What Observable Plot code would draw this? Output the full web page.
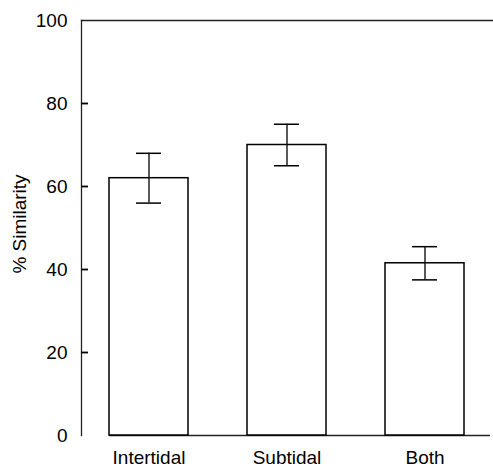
<!DOCTYPE html>
<html>
<head>
<meta charset="utf-8">
<script src="https://cdn.jsdelivr.net/npm/d3@7"></script>
<script src="https://cdn.jsdelivr.net/npm/@observablehq/plot@0.6"></script>
<style>
  html, body { margin: 0; padding: 0; background: #fff; }
</style>
</head>
<body>
<div id="chart"></div>
<script>
const categories = ["Intertidal", "Subtidal", "Both"];
const means = [62, 70, 41.5];
const lows = [56, 65, 37.5];
const highs = [68, 75, 45.5];
const yTicks = [0, 20, 40, 60, 80, 100];
const yInnerTicks = [20, 40, 60, 80];
const yLabel = "% Similarity";

const data = categories.map((c, i) => ({cat: c, mean: means[i], lo: lows[i], hi: highs[i]}));

const chart = Plot.plot({
  width: 493,
  height: 472,
  marginLeft: 81,
  marginRight: 0,
  marginTop: 20,
  marginBottom: 37,
  style: {fontFamily: "'Liberation Sans', Arial, sans-serif", fontSize: "19px", color: "#000", background: "#fff"},
  x: {domain: categories, paddingInner: 0.424, paddingOuter: 0.2},
  y: {domain: [0, 100]},
  marks: [
    Plot.frame({anchor: "left", stroke: "#222", strokeWidth: 1.3}),
    Plot.frame({anchor: "top", stroke: "#222", strokeWidth: 1.3}),
    Plot.ruleY([0], {x1: () => categories[0], x2: () => categories[categories.length - 1], insetRight: -26, stroke: "#222", strokeWidth: 1.3}),
    Plot.ruleY(yInnerTicks, {y: d => d, insetRight: 405, stroke: "#000", strokeWidth: 1.8}),
    Plot.barY(data, {x: "cat", y: "mean", fill: "#fff", stroke: "#000", strokeWidth: 1.5}),
    Plot.ruleX(data, {x: "cat", y1: "lo", y2: "hi", stroke: "#000", strokeWidth: 1.3}),
    Plot.tickY(data, {x: "cat", y: "hi", stroke: "#000", strokeWidth: 1.5, insetLeft: 27, insetRight: 27}),
    Plot.tickY(data, {x: "cat", y: "lo", stroke: "#000", strokeWidth: 1.5, insetLeft: 27, insetRight: 27}),
    Plot.axisY({ticks: yTicks, tickSize: 0, tickPadding: 14, label: null, fontSize: 19}),
    Plot.axisX({tickSize: 0, tickPadding: 15, label: null, fontSize: 19, style: "letter-spacing: 0.8px"}),
    Plot.text([yLabel], {frameAnchor: "left", textAnchor: "middle", dx: -62, dy: -4, rotate: -90, fontSize: 19, fill: "#000", style: "letter-spacing: 1px"})
  ]
});
document.getElementById("chart").appendChild(chart);
</script>
</body>
</html>
